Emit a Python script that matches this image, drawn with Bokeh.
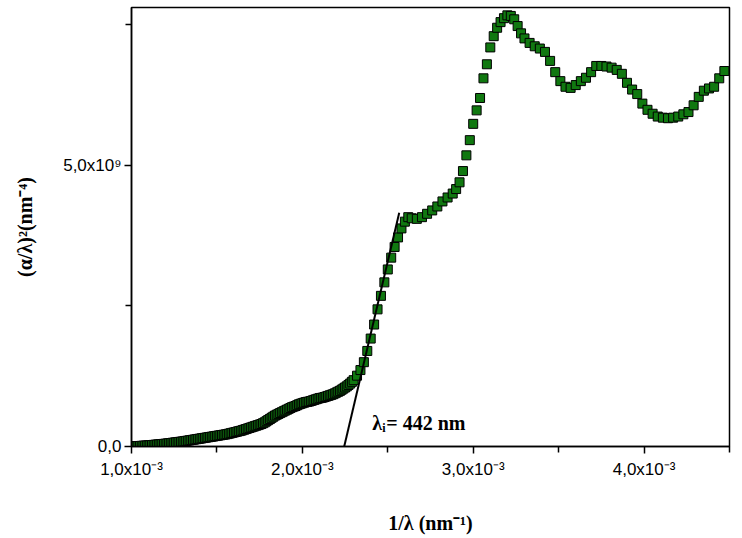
from bokeh.plotting import figure
from bokeh.models import Range1d, FixedTicker, Label
from bokeh.embed import file_html
from bokeh.resources import INLINE

# 1/lambda (units of 1e-3 nm^-1)
inv_lambda = [
    1.00, 1.01, 1.02, 1.03, 1.04, 1.05, 1.06, 1.07, 1.08, 1.09,
    1.10, 1.11, 1.12, 1.13, 1.14, 1.15, 1.16, 1.17, 1.18, 1.19,
    1.20, 1.21, 1.22, 1.23, 1.24, 1.25, 1.26, 1.27, 1.28, 1.29,
    1.30, 1.31, 1.32, 1.33, 1.34, 1.35, 1.36, 1.37, 1.38, 1.39,
    1.40, 1.41, 1.42, 1.43, 1.44, 1.45, 1.46, 1.47, 1.48, 1.49,
    1.50, 1.51, 1.52, 1.53, 1.54, 1.55, 1.56, 1.57, 1.58, 1.59,
    1.60, 1.61, 1.62, 1.63, 1.64, 1.65, 1.66, 1.67, 1.68, 1.69,
    1.70, 1.71, 1.72, 1.73, 1.74, 1.75, 1.76, 1.77, 1.78, 1.79,
    1.80, 1.81, 1.82, 1.83, 1.84, 1.85, 1.86, 1.87, 1.88, 1.89,
    1.90, 1.91, 1.92, 1.93, 1.94, 1.95, 1.96, 1.97, 1.98, 1.99,
    2.00, 2.01, 2.02, 2.03, 2.04, 2.05, 2.06, 2.07, 2.08, 2.09,
    2.10, 2.11, 2.12, 2.13, 2.14, 2.15, 2.16, 2.17, 2.18, 2.19,
    2.20, 2.21, 2.22, 2.23, 2.24, 2.25, 2.26, 2.27, 2.28, 2.29,
    2.30, 2.32, 2.34, 2.36, 2.38,
    2.40, 2.42, 2.44, 2.46, 2.48, 2.50, 2.52, 2.54, 2.56, 2.58,
    2.60, 2.62, 2.64, 2.67, 2.70, 2.73, 2.76, 2.79, 2.82, 2.85,
    2.88, 2.90, 2.92, 2.94, 2.96, 2.98, 3.00, 3.02, 3.04, 3.06,
    3.08, 3.10, 3.12, 3.14, 3.16, 3.18, 3.20, 3.22, 3.24, 3.26,
    3.28, 3.30, 3.33, 3.36, 3.39, 3.42, 3.45, 3.48, 3.51, 3.54,
    3.57, 3.60, 3.63, 3.66, 3.69, 3.72, 3.75, 3.78, 3.81, 3.84,
    3.87, 3.90, 3.93, 3.96, 3.99, 4.02, 4.05, 4.08, 4.11, 4.14,
    4.17, 4.20, 4.23, 4.26, 4.29, 4.32, 4.35, 4.38, 4.41, 4.44,
    4.47,
]
# (alpha/lambda)^2 (units of 1e9 nm^-4)
alpha_sq = [
    0.000, 0.002, 0.004, 0.006, 0.008, 0.010, 0.012, 0.014, 0.016, 0.018,
    0.020, 0.023, 0.026, 0.029, 0.032, 0.035, 0.038, 0.041, 0.044, 0.047,
    0.050, 0.054, 0.058, 0.062, 0.066, 0.070, 0.074, 0.078, 0.082, 0.086,
    0.090, 0.095, 0.100, 0.105, 0.110, 0.115, 0.120, 0.125, 0.130, 0.135,
    0.140, 0.145, 0.150, 0.155, 0.160, 0.165, 0.170, 0.175, 0.180, 0.185,
    0.190, 0.195, 0.200, 0.205, 0.210, 0.215, 0.220, 0.228, 0.236, 0.243,
    0.250, 0.258, 0.266, 0.273, 0.280, 0.290, 0.300, 0.310, 0.320, 0.330,
    0.340, 0.350, 0.360, 0.370, 0.380, 0.390, 0.400, 0.415, 0.430, 0.450,
    0.470, 0.490, 0.510, 0.530, 0.550, 0.565, 0.580, 0.595, 0.610, 0.625,
    0.640, 0.655, 0.670, 0.685, 0.700, 0.710, 0.720, 0.735, 0.750, 0.760,
    0.770, 0.780, 0.790, 0.795, 0.800, 0.810, 0.820, 0.830, 0.840, 0.850,
    0.860, 0.865, 0.870, 0.880, 0.890, 0.900, 0.910, 0.920, 0.930, 0.945,
    0.960, 0.975, 0.990, 1.010, 1.030, 1.050, 1.070, 1.095, 1.120, 1.150,
    1.180, 1.26, 1.36, 1.50, 1.70,
    1.92, 2.17, 2.44, 2.68, 2.92, 3.15, 3.36, 3.55, 3.72, 3.88,
    4.00, 4.08, 4.06, 4.05, 4.08, 4.14, 4.20, 4.27, 4.36, 4.43,
    4.50, 4.58, 4.70, 4.90, 5.18, 5.45, 5.74, 5.98, 6.20, 6.55,
    6.80, 7.10, 7.30, 7.45, 7.55, 7.62, 7.67, 7.66, 7.60, 7.48,
    7.35, 7.26, 7.18, 7.12, 7.08, 7.02, 6.86, 6.66, 6.50, 6.40,
    6.38, 6.43, 6.50, 6.56, 6.66, 6.77, 6.77, 6.76, 6.74, 6.70,
    6.63, 6.47, 6.35, 6.27, 6.10, 5.99, 5.92, 5.87, 5.85, 5.84,
    5.85, 5.87, 5.91, 5.95, 6.07, 6.22, 6.33, 6.37, 6.40, 6.55,
    6.68,
]

# linear fit (tangent) end points
fit_inv_lambda = [2.245, 2.567]
fit_alpha_sq = [0.0, 4.16]

x_ticks = [1.0e-3, 2.0e-3, 3.0e-3, 4.0e-3]
x_tick_labels = ["1,0x10\u207b\u00b3", "2,0x10\u207b\u00b3", "3,0x10\u207b\u00b3", "4,0x10\u207b\u00b3"]
x_minor = [1.5e-3, 2.5e-3, 3.5e-3, 4.5e-3]
y_ticks = [0.0, 5.0e9]
y_tick_labels = ["0,0", "5,0x10\u2079"]
y_minor = [2.5e9, 7.5e9]

xs = [v * 1e-3 for v in inv_lambda]
ys = [v * 1e9 for v in alpha_sq]
fx = [v * 1e-3 for v in fit_inv_lambda]
fy = [v * 1e9 for v in fit_alpha_sq]

p = figure(width=742, height=538, output_backend="svg", toolbar_location=None,
           x_range=Range1d(1.0e-3, 4.5e-3), y_range=Range1d(0, 7.81e9),
           min_border_left=131, min_border_right=13, min_border_top=7,
           min_border_bottom=92)
p.grid.visible = False
p.outline_line_color = "black"
p.outline_line_width = 1.5
p.background_fill_color = "white"
p.border_fill_color = "white"

p.scatter(xs, ys, marker="square", size=9, fill_color="#107810",
          line_color="black", line_width=1)
p.line(fx, fy, line_color="black", line_width=2)

for ax in (p.xaxis[0], p.yaxis[0]):
    ax.axis_line_width = 1.5
    ax.axis_line_color = "black"
    ax.major_tick_line_width = 1.5
    ax.minor_tick_line_width = 1.5
    ax.major_tick_in = 0
    ax.major_tick_out = 7
    ax.minor_tick_in = 0
    ax.minor_tick_out = 6
    ax.major_label_text_font = "Liberation Sans"
    ax.major_label_text_font_size = "17px"
    ax.major_label_text_color = "black"
    ax.axis_label_text_font = "Liberation Serif"
    ax.axis_label_text_font_style = "bold"
    ax.axis_label_text_font_size = "20px"
    ax.axis_label_text_color = "black"

p.xaxis.ticker = FixedTicker(ticks=x_ticks, minor_ticks=x_minor)
p.xaxis.major_label_overrides = dict(zip(x_ticks, x_tick_labels))
p.yaxis.ticker = FixedTicker(ticks=y_ticks, minor_ticks=y_minor)
p.yaxis.major_label_overrides = dict(zip(y_ticks, y_tick_labels))
p.xaxis.major_label_standoff = 6
p.yaxis.major_label_standoff = 3
p.xaxis.axis_label = "1/\u03bb (nm\u207b\u00b9)"
p.yaxis.axis_label = "(\u03b1/\u03bb)\u00b2(nm\u207b\u2074)"
p.xaxis.axis_label_standoff = 30
p.yaxis.axis_label_standoff = 24

ann_x = 2.409e-3
ann_y = 0.41e9
p.add_layout(Label(x=ann_x, y=ann_y, text="\u03bb", text_font="Liberation Serif",
                   text_font_style="bold", text_font_size="20px",
                   text_color="black", text_baseline="alphabetic"))
p.add_layout(Label(x=ann_x, y=ann_y, x_offset=10, y_offset=-5, text="i",
                   text_font="Liberation Serif", text_font_style="bold",
                   text_font_size="12px", text_color="black",
                   text_baseline="alphabetic"))
p.add_layout(Label(x=ann_x, y=ann_y, x_offset=14, text="= 442 nm",
                   text_font="Liberation Serif", text_font_style="bold",
                   text_font_size="20px", text_color="black",
                   text_baseline="alphabetic"))

open("out.html", "w").write(file_html(p, INLINE))
